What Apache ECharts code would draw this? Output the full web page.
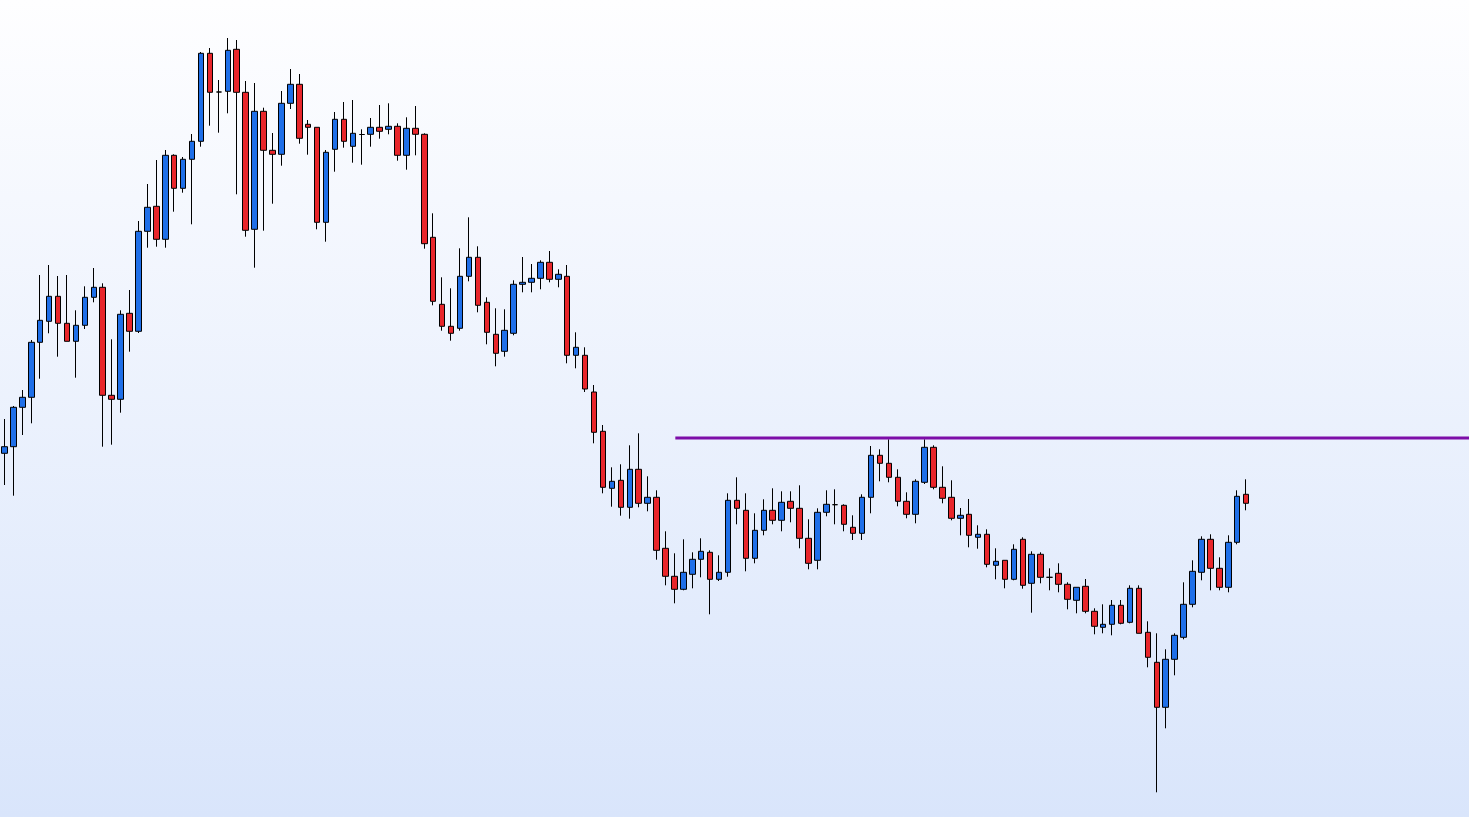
<!DOCTYPE html>
<html>
<head>
<meta charset="utf-8">
<script src="https://cdn.jsdelivr.net/npm/echarts@6/dist/echarts.min.js"></script>
<style>
html,body{margin:0;padding:0;width:100%;height:100%;overflow:hidden;}
#chart{width:1469px;height:817px;}
</style>
</head>
<body>
<div id="chart"></div>
<script>
// OHLC values (price units, higher = up)
const opens = [363.7,370.3,409.7,419.7,474.7,495.7,520.7,493.7,475.7,491.7,519.7,529.7,421.7,417.7,503.7,485.7,585.7,610.7,577.7,661.7,
628.7,657.7,675.7,763.7,725,725.7,767.7,724.7,587.7,705.7,666.7,662.7,713.7,732.7,692.7,689.7,594.7,667.7,697.7,670.7,
682.5,682.7,689.7,687.7,690.7,661.7,688.7,682.7,579.7,512.7,490.7,488.7,540.7,559.7,514.7,482.7,465.7,483.7,532.7,534.7,
538.7,554.7,537.7,540.7,461.7,461.7,425,385.7,328.7,336.7,309.7,347.7,313.7,319.7,268.7,240.7,227.7,242.7,257.7,264.7,
237.7,244.7,316.7,306.7,258.7,286.7,306.7,296.7,315.7,308.7,278.7,256.7,304.7,312.3,311.7,289.7,283.7,319.7,361.7,353.7,
339.7,315.7,302.7,334.7,369.7,329.7,319.7,298.7,302.7,279.7,282.7,251.7,256.7,237.7,277.7,233.7,262.7,239.7,243.7,232.7,
216.7,230.7,205.7,189.7,192.7,211.7,194.7,228.7,184.7,154.7,109.7,157.7,179.7,212.7,244.7,277.7,248.7,229.7,274.7,322.7];
const closes = [370.3,409.7,419.7,474.7,496.7,520.7,493.7,475.7,491.7,519.7,529.7,421.7,417.7,502.7,485.7,585.7,609.7,577.7,661.7,628.7,
657.7,675.7,763.7,724.7,725,766.7,724.7,586.7,705.7,666.7,662.7,713.7,732.7,678.7,689.7,594.7,664.7,697.7,675.7,683.7,
682.5,689.7,685.7,690.7,661.7,688.7,682.7,573.3,515.7,490.7,483.7,540.7,559.7,511.7,484.7,463.7,486.7,532.7,534.7,538.7,
554.7,537.7,542.7,461.7,469.7,428,384.7,329.7,335.7,309.7,347.7,313.7,319.7,266.7,240.7,227.7,244.7,257.7,265.7,237.7,
244.7,316.7,308.7,258.7,286.7,306.7,296.7,314.7,308.7,278.7,253.7,304.7,312.7,312.3,292.7,283.7,319.7,361.7,353.7,339.7,
315.7,302.7,335.7,369.7,329.7,318.7,298.7,301.7,281.7,282.7,252.7,255.7,237.7,267.7,231.7,262.7,239.7,239.7,232.7,217.7,
229.7,205.7,190.7,192.7,211.7,193.7,228.7,183.7,159.7,109.7,157.7,181.7,212.7,245.7,277.7,248.7,229.7,274.7,320.7,313.7];
const lows = [332,321.3,382,393.7,438.3,483.7,460.3,475.7,439.3,488,514.7,370.3,372.3,404.3,465.3,484,569.3,570.3,569.3,605.3,
624.3,592.7,670.3,691.3,684.3,703.7,622.7,580.3,549.3,586.3,613.3,651.3,708,673.3,662.3,587.7,575.3,645.3,669.3,654.3,
652.3,670.3,678.3,682.7,656.3,647.3,661.7,568.3,511.7,486.3,476.3,486.3,535.7,504.7,472.7,450.7,460.3,481.7,524.7,524.7,
527.7,534.7,529.7,453.7,448.7,425,373.7,323.7,310.3,301.3,298.3,309.7,305.7,257.3,231.7,213.7,226.7,228.7,239.7,202.7,
236,240.3,292.7,245.7,253.7,281.7,292.7,285.7,294.7,268.7,247.7,247.7,300.7,292.7,285.7,277,277,303.7,335.7,334.7,
310.7,298.7,293.7,333,327.7,313.7,296.7,281.7,269.7,268.3,249.7,237.7,228.7,236.7,228.3,204.3,233.7,226.7,224.7,207.7,
203.7,203.7,182.7,183.7,181.7,192.7,193.7,183.7,149.7,24.7,88.7,141.7,177.7,209.7,236.7,226.7,226.7,224.7,272.7,306.7];
const highs = [398,411,427,477,542,552,541,542,506.7,530.7,549,533.7,477.7,506.7,527,596,633,657,667,662.7,
660,683,765,769,737,779,777,736,734,709.3,684,726,748,743,697,689.7,667,705,715,717,
687.7,699,712,713.7,693.7,699.7,711,683.7,603.7,539.7,528.7,568.7,599.7,570.7,519.7,508.7,507.7,536.7,560,553,
556.7,566,547.7,552,484.7,469.7,432,392,349.7,352.7,371.7,383.7,340.7,326.7,285.7,263.7,277.7,264.7,278.7,266.7,
261.7,323.7,339.7,323.7,303.7,317.7,328.7,325.7,325.7,331.7,297.7,308.7,326.7,327.7,312.7,301.7,322.7,371,367.7,377.7,
347.7,324.7,337.7,377.7,371.7,350.7,336.7,309,318,291.7,287.7,268.7,256.7,272.7,279.7,265.7,264.7,248.7,253.7,234.7,
229.7,238,208.7,212.7,217,217,231.7,231.7,195.7,183.7,167.7,183.7,234.7,256.7,280.7,282.7,259.7,281.7,326.7,337.7];
// horizontal resistance level (purple line): start position (bar index) and price
const levelStartBar = 75.1;
const levelPrice = 379;
// number of empty bar slots to the right of the last candle
const emptySlots = 24;

const categories = [];
for (let i = 0; i < opens.length + emptySlots; i++) categories.push(String(i + 1));
const candleData = opens.map((o, i) => [o, closes[i], lows[i], highs[i]]);
const N = categories.length;
const W = 1469;
const band = 8.94;
const leftPx = 3.3 - band / 2;
// second overlay grid spans to the right edge, its x axis in bar-index units
const overlayMax = (W - leftPx) / band - 0.5;

const chart = echarts.init(document.getElementById('chart'), null, {renderer: 'canvas'});
chart.setOption({
  animation: false,
  backgroundColor: new echarts.graphic.LinearGradient(0, 0, 0, 1, [
    {offset: 0, color: '#FEFEFF'},
    {offset: 1, color: '#D9E5FB'}
  ]),
  grid: [
    {left: leftPx, width: band * N, top: 0, bottom: 0, containLabel: false},
    {left: leftPx, right: 0, top: 0, bottom: 0, containLabel: false}
  ],
  xAxis: [
    {type: 'category', data: categories, show: false, boundaryGap: true, gridIndex: 0},
    {type: 'value', min: -0.5, max: overlayMax, show: false, gridIndex: 1}
  ],
  yAxis: [
    {type: 'value', min: 0, max: 817, show: false, splitLine: {show: false}, gridIndex: 0},
    {type: 'value', min: 0, max: 817, show: false, splitLine: {show: false}, gridIndex: 1}
  ],
  series: [
    {
      type: 'candlestick',
      data: candleData,
      barWidth: 6,
      itemStyle: {
        color: '#1F6FE8',
        color0: '#E8262B',
        borderColor: '#000000',
        borderColor0: '#000000',
        borderColorDoji: '#000000',
        borderWidth: 1
      }
    },
    {
      type: 'line',
      xAxisIndex: 1,
      yAxisIndex: 1,
      data: [[levelStartBar, levelPrice], [overlayMax, levelPrice]],
      symbol: 'none',
      lineStyle: {color: '#7D0DA8', width: 3},
      silent: true
    }
  ]
});
</script>
</body>
</html>
